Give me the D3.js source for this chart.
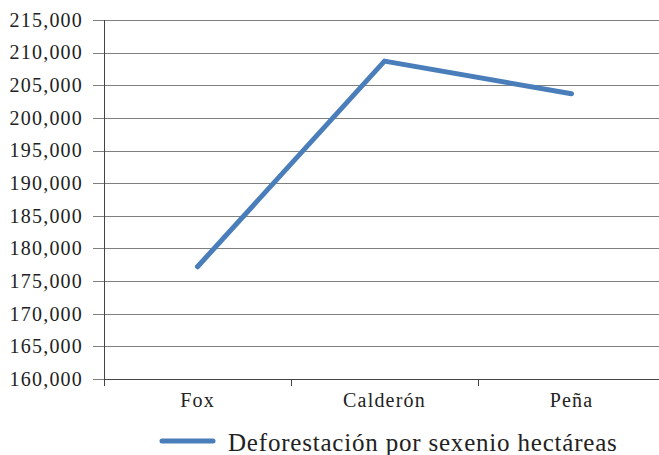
<!DOCTYPE html>
<html><head><meta charset="utf-8">
<script src="https://cdn.jsdelivr.net/npm/d3@7"></script>
<style>body{margin:0;background:#fff} text{font-family:"Liberation Serif", serif;}</style>
</head><body>
<svg id="c" width="659" height="455"></svg>
<script>
const categories = ["Fox", "Calderón", "Peña"];
const values = [177200, 208700, 203700];
const seriesName = "Deforestación por sexenio hectáreas";
const yTicks = [160000,165000,170000,175000,180000,185000,190000,195000,200000,205000,210000,215000];

(function () {
const svg = d3.select("#c");
const mLeft = 104, mRight = 665, mTop = 20, mBottom = 379;
const x = d3.scaleBand().domain(categories).range([mLeft, mRight]);
const y = d3.scaleLinear().domain([160000, 215000]).range([mBottom, mTop]);

svg.append("g").selectAll("line").data(yTicks).join("line")
  .attr("x1", mLeft - 11).attr("x2", 659)
  .attr("y1", d => Math.round(y(d)) + 0.5).attr("y2", d => Math.round(y(d)) + 0.5)
  .attr("stroke", "#7f7f7f").attr("stroke-width", 1);

svg.append("g").selectAll("text").data(yTicks).join("text")
  .attr("x", 83).attr("y", d => y(d)).attr("dy", "0.34em")
  .attr("text-anchor", "end").attr("font-size", 20).attr("letter-spacing", 1.2)
  .attr("fill", "#222").text(d3.format(","));

svg.append("line").attr("x1", mLeft + 0.5).attr("x2", mLeft + 0.5)
  .attr("y1", mTop).attr("y2", mBottom + 7).attr("stroke", "#444");

const xAxis = d3.axisBottom(x).tickSize(0).tickPadding(13);
const gx = svg.append("g").attr("transform", `translate(0,${Math.round(mBottom)+0.5})`).call(xAxis);
gx.select(".domain").remove();
gx.selectAll("text").attr("font-family", null).attr("font-size", 20).attr("letter-spacing", 1.2).attr("fill", "#222");
svg.append("g").selectAll("line").data(categories.slice(1)).join("line")
  .attr("x1", d => Math.round(x(d)) + 0.5).attr("x2", d => Math.round(x(d)) + 0.5)
  .attr("y1", mBottom).attr("y2", mBottom + 7).attr("stroke", "#444");
svg.append("line").attr("x1", mLeft).attr("x2", 659)
  .attr("y1", Math.round(mBottom) + 0.5).attr("y2", Math.round(mBottom) + 0.5).attr("stroke", "#444");

const line = d3.line().x((d, i) => x(categories[i]) + x.bandwidth() / 2).y(d => y(d));
svg.append("path").datum(values).attr("d", line)
  .attr("fill", "none").attr("stroke", "#4a7ebb").attr("stroke-width", 5)
  .attr("stroke-linecap", "round").attr("stroke-linejoin", "round");

svg.append("line").attr("x1", 162).attr("x2", 213).attr("y1", 441).attr("y2", 441)
  .attr("stroke", "#4a7ebb").attr("stroke-width", 5).attr("stroke-linecap", "round");
svg.append("text").attr("x", 228).attr("y", 451).attr("font-size", 25).attr("letter-spacing", 0.8)
  .attr("fill", "#222").text(seriesName);
})();
</script>
</body></html>
